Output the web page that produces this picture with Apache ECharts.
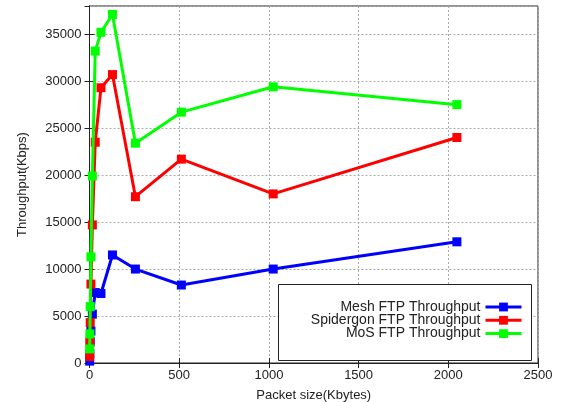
<!DOCTYPE html>
<html><head><meta charset="utf-8">
<script src="https://cdn.jsdelivr.net/npm/echarts@6/dist/echarts.min.js"></script>
<style>html,body{margin:0;padding:0;background:#fff}#c{width:565px;height:402px}</style>
</head><body><div id="c"></div>
<script>
const packetSizes = [1, 2, 4, 8, 16, 32, 64, 128, 256, 512, 1024, 2048];
const meshValues = [200, 1000, 2300, 3400, 5200, 7500, 7400, 11500, 10000, 8300, 10000, 12900];
const spidergonValues = [700, 2200, 4300, 8400, 14700, 23500, 29300, 30700, 17700, 21700, 18000, 24000];
const mosValues = [1500, 3100, 6000, 11300, 19900, 33200, 35200, 37100, 23400, 26700, 29400, 27500];
const seriesNames = ['Mesh FTP Throughput', 'Spidergon FTP Throughput', 'MoS FTP Throughput'];
const seriesColors = ['#0000ff', '#ff0000', '#00ff00'];
const seriesValues = [meshValues, spidergonValues, mosValues];

const font = 'Liberation Sans, Arial, sans-serif';
const chart = echarts.init(document.getElementById('c'));
const pairs = v => packetSizes.map((x, i) => [x, v[i]]);
const hidden = {show:false};
chart.setOption({
  animation: false,
  backgroundColor: '#fff',
  grid: {left: 89.5, right: 27, top: 6, bottom: 39, show: true, borderColor: '#222', borderWidth: 1,
    containLabel: false, outerBoundsMode: 'none'},
  graphic: [{type: 'rect', shape: {x: 278.5, y: 284.5, width: 253, height: 76}, style: {fill: '#fff', stroke: '#222', lineWidth: 1}, z: 3}],
  legend: {
    orient: 'vertical', right: 42, top: 300, padding: 0, align: 'right', itemWidth: 36, itemHeight: 11, itemGap: -0.7,
    lineStyle: {width: 3},
    textStyle: {fontFamily: font, fontSize: 14, color: '#222', lineHeight: 13},
    data: seriesNames, z: 5
  },
  xAxis: [{
    type: 'value', min: 0, max: 2500, interval: 500,
    name: 'Packet size(Kbytes)', nameLocation: 'middle', nameGap: 26,
    nameTextStyle: {fontFamily: font, fontSize: 13, color: '#222'},
    axisLine: {show: true, lineStyle: {color: '#222'}},
    axisTick: {inside: true, length: 5, lineStyle: {color: '#222'}},
    axisLabel: {fontFamily: font, fontSize: 13, color: '#222', margin: 6, formatter: v => String(v)},
    splitLine: {show: true, lineStyle: {type: [2, 2], color: '#aaa'}}
  }, {
    type: 'value', min: 0, max: 2500, interval: 500, position: 'top',
    axisLine: {show: true, lineStyle: {color: '#222'}},
    axisTick: {inside: true, length: 5, lineStyle: {color: '#222'}},
    axisLabel: hidden, splitLine: hidden
  }],
  yAxis: [{
    type: 'value', min: 0, max: 38000, interval: 5000,
    name: 'Throughput(Kbps)', nameLocation: 'middle', nameGap: 61,
    nameTextStyle: {fontFamily: font, fontSize: 13, color: '#222'},
    axisLine: {show: true, lineStyle: {color: '#222'}},
    axisTick: {inside: true, length: 5, lineStyle: {color: '#222'}},
    axisLabel: {fontFamily: font, fontSize: 13, color: '#222', margin: 8, showMaxLabel: false,
      formatter: v => (v % 5000 === 0 ? String(v) : '')},
    splitLine: {show: true, lineStyle: {type: [2, 2], color: '#aaa'}}
  }, {
    type: 'value', min: 0, max: 38000, interval: 5000, position: 'right',
    axisLine: {show: true, lineStyle: {color: '#222'}},
    axisTick: {inside: true, length: 5, lineStyle: {color: '#222'}},
    axisLabel: hidden, splitLine: hidden
  }],
  series: seriesValues.map((v, i) => ({
    name: seriesNames[i], type: 'line', data: pairs(v),
    symbol: 'rect', symbolSize: 9, showAllSymbol: true,
    lineStyle: {width: 3, color: seriesColors[i]},
    itemStyle: {color: seriesColors[i]},
    z: 2 + i
  }))
});
</script></body></html>
